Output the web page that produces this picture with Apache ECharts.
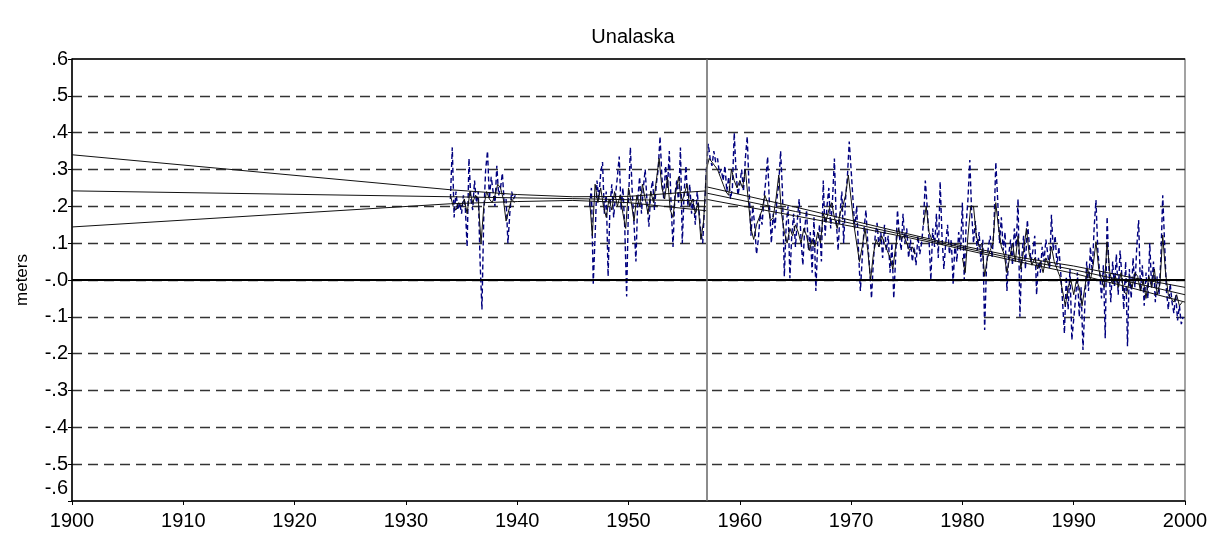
<!DOCTYPE html>
<html>
<head>
<meta charset="utf-8">
<script src="https://cdn.jsdelivr.net/npm/echarts@6/dist/echarts.min.js"></script>
<style>
html,body{margin:0;padding:0;background:#fff;}
#chart{width:1225px;height:537px;}
</style>
</head>
<body>
<div id="chart"></div>
<script>
// ---------------- DATA ----------------
const titleText = 'Unalaska';
const yAxisName = 'meters';
const xTickLabels = ['1900','1910','1920','1930','1940','1950','1960','1970','1980','1990','2000'];
const yTickLabels = ['.6','.5','.4','.3','.2','.1','-.0','-.1','-.2','-.3','-.4','-.5','-.6'];
const breakYear = 1957;

// monthly-ish sea level (blue dashed), 6 values per year
const blueA_start = 1934.0;
const blueA = [0.22,0.36,0.17,0.24,0.19,0.21,0.18,0.23,0.20,0.09,0.33,0.22,0.19,0.27,0.21,0.24,0.05,-0.08,
               0.18,0.30,0.35,0.22,0.28,0.24,0.20,0.31,0.23,0.25,0.29,0.21,0.22,0.10,0.18,0.24,0.22,0.23];
const blueB_start = 1946.5;
const blueB = [0.20,0.25,-0.01,0.12,0.27,0.22,0.29,0.32,0.18,0.24,0.01,0.20,0.26,0.17,0.23,0.28,0.335,0.19,
               0.25,0.14,-0.045,0.21,0.36,0.24,0.15,0.05,0.22,0.28,0.18,0.25,0.30,0.21,0.145,0.24,0.27,0.19,
               0.26,0.30,0.39,0.28,0.22,0.31,0.25,0.35,0.20,0.09,0.23,0.27,0.21,0.36,0.10,0.24,0.31,0.20,
               0.26,0.18,0.22,0.15,0.24,0.19,0.13,0.10,0.20];
const blueC_start = 1957.0;
const blueC = [
  0.30,0.37,0.33,0.31,0.35,0.32,  0.33,0.29,0.30,0.27,0.31,0.24,  0.28,0.22,0.25,0.40,0.29,0.23,
  0.26,0.30,0.24,0.33,0.39,0.25,  0.12,0.20,0.15,0.07,0.11,0.18,  0.15,0.22,0.27,0.335,0.20,0.10,
  0.18,0.14,0.22,0.26,0.35,0.24,  0.01,0.15,0.20,0.005,0.12,0.18, 0.09,0.16,0.22,0.11,0.04,0.14,
  0.19,0.08,0.13,0.02,0.17,-0.03, 0.10,0.15,0.05,0.27,0.12,0.20,  0.25,0.14,0.22,0.33,0.16,0.08,
  0.18,0.24,0.10,0.22,0.28,0.376, 0.30,0.22,0.14,0.20,0.08,-0.03, 0.06,0.14,0.19,0.10,0.03,-0.05,
  0.05,0.12,0.155,0.09,0.13,0.06, 0.15,0.08,0.12,0.02,0.10,-0.05, 0.06,0.19,0.12,0.08,0.18,0.10,
  0.14,0.06,0.11,0.05,0.09,0.04,  0.12,0.07,0.10,0.155,0.27,0.20, 0.11,0.00,0.14,0.09,0.18,0.06,
  0.267,0.12,0.03,0.10,0.15,0.07, 0.11,-0.01,0.10,0.05,0.13,0.08, 0.21,0.00,0.15,0.22,0.326,0.18,
  0.10,0.16,0.08,0.13,0.05,0.11,  -0.136,0.04,0.09,0.12,0.06,0.14, 0.32,0.22,0.10,0.17,0.08,0.13,
  -0.03,0.07,0.11,0.04,0.14,0.09, 0.22,-0.10,0.06,0.12,0.03,0.163, 0.10,0.05,0.08,0.12,-0.04,0.06,
  0.02,0.09,0.05,0.11,0.07,0.03,  0.177,0.08,0.12,0.04,0.09,0.02, -0.06,-0.145,0.01,-0.08,0.03,-0.163,
  -0.163,-0.05,0.02,-0.10,-0.02,-0.19, -0.07,0.05,-0.03,0.09,0.02,0.14, 0.217,0.08,0.02,-0.05,0.04,-0.158,
  0.172,0.03,-0.06,0.05,-0.02,0.07, -0.04,0.08,0.01,-0.08,0.05,-0.18, 0.03,-0.05,0.06,-0.02,0.09,0.163,
  -0.03,0.04,-0.07,0.02,-0.05,0.10, -0.02,0.05,-0.06,0.01,-0.04,0.06, 0.23,0.10,-0.03,-0.08,-0.01,-0.06,
  -0.09,-0.04,-0.11,-0.07,-0.12,-0.10];

// smoothed series (black solid), 4 values per year
const blackA_start = 1934.0;
const blackA = [0.23,0.20,0.19,0.21,0.20,0.22,0.18,0.24,0.21,0.23,0.22,0.10,0.20,0.24,0.22,0.21,0.23,0.26,0.25,0.22,0.16,0.19,0.22,0.21];
const blackB_start = 1946.5;
const blackB = [0.22,0.12,0.26,0.21,0.25,0.20,0.17,0.22,0.19,0.24,0.20,0.23,0.18,0.14,0.25,0.21,0.16,0.23,0.20,0.26,0.22,
                0.18,0.24,0.21,0.27,0.33,0.25,0.22,0.28,0.19,0.17,0.24,0.28,0.21,0.23,0.26,0.20,0.22,0.18,0.21,0.11,0.16,
                0.30,0.33,0.32,0.31, 0.30,0.28,0.26,0.24, 0.23,0.30,0.27,0.25, 0.27,0.25,0.30,0.22, 0.14,0.11,0.15,0.17,
                0.19,0.23,0.21,0.16, 0.17,0.22,0.285,0.18, 0.13,0.10,0.14,0.12, 0.15,0.13,0.10,0.14, 0.12,0.08,0.11,0.09,
                0.13,0.10,0.18,0.16, 0.19,0.21,0.17,0.14, 0.18,0.20,0.23,0.285, 0.22,0.15,0.10,0.05, 0.09,0.14,0.08,0.00,
                0.07,0.11,0.09,0.12, 0.10,0.08,0.06,0.03, 0.09,0.14,0.11,0.12, 0.10,0.08,0.09,0.07];
const blackC_start = 1976.5;
const blackC = [0.15,0.20,0.13,0.11];
const blackD_start = 1980.0;
const blackD = [0.06,0.02,0.12,0.20, 0.20,0.12,0.09,0.10, 0.01,0.06,0.08,0.10, 0.21,0.14,0.09,0.07, 0.02,0.06,0.10,0.05,
                0.12,0.03,0.08,0.14, 0.07,0.04,0.06,0.03, 0.05,0.02,0.06,0.04, 0.09,0.05,0.03,0.01, -0.03,-0.07,-0.02,0.00,
                -0.04,0.00,-0.02,-0.07, -0.02,0.03,0.00,0.04, 0.104,0.03,0.00,-0.02, 0.104,0.02,-0.01,0.01, -0.02,0.02,-0.03,-0.04,
                0.00,-0.02,0.02,0.01, -0.03,0.00,-0.05,0.01, -0.02,0.03,-0.04,-0.01, 0.122,0.02,-0.04,-0.05, -0.06,-0.04,-0.07,-0.06];

// trend lines with confidence bands
const preYears = [1900,1934,1940,1945,1950,1957];
const preUp    = [0.340,0.245,0.232,0.226,0.227,0.242];
const preMid   = [0.242,0.226,0.223,0.221,0.218,0.215];
const preLow   = [0.144,0.207,0.213,0.216,0.210,0.188];
const postYears = [1957,1965,1970,1975,1978,1985,1990,1995,2000];
const postUp    = [0.253,0.198,0.162,0.126,0.105,0.062,0.038,0.008,-0.020];
const postMid   = [0.236,0.186,0.154,0.121,0.101,0.056,0.028,-0.005,-0.040];
const postLow   = [0.219,0.174,0.146,0.116,0.097,0.050,0.018,-0.020,-0.060];

// ---------------- BUILD ----------------
function seg(start, perYear, vals){ return vals.map((v,i)=>[start + i/perYear, v]); }
function pairs(xs, ys){ return xs.map((x,i)=>[x, ys[i]]); }

const blueStyle = {color:'#00007f', width:1.4, type:[5,3]};
const blackStyle = {color:'#111', width:1};
const trendStyle = {color:'#111', width:1};

function lineSeries(data, style, z){
  return {type:'line', data:data, showSymbol:false, symbol:'none', lineStyle:style, z:z, silent:true, animation:false};
}

const series = [
  lineSeries(seg(blueA_start,6,blueA), blueStyle, 2),
  lineSeries(seg(blueB_start,6,blueB).concat(seg(blueC_start,6,blueC)), blueStyle, 2),
  lineSeries(seg(blackA_start,4,blackA), blackStyle, 3),
  lineSeries(seg(blackB_start,4,blackB), blackStyle, 3),
  lineSeries(seg(blackC_start,4,blackC), blackStyle, 3),
  lineSeries(seg(blackD_start,4,blackD), blackStyle, 3),
  lineSeries(pairs(preYears,preUp), trendStyle, 4),
  lineSeries(pairs(preYears,preMid), trendStyle, 4),
  lineSeries(pairs(preYears,preLow), trendStyle, 4),
  lineSeries(pairs(postYears,postUp), trendStyle, 4),
  lineSeries(pairs(postYears,postMid), trendStyle, 4),
  lineSeries(pairs(postYears,postLow), trendStyle, 4),
  {
    type:'line', data:[], silent:true, z:1,
    markLine:{
      symbol:['none','none'], silent:true, animation:false, label:{show:false},
      data:[
        {yAxis:0, lineStyle:{color:'#000', width:2, type:'solid'}},
        {yAxis:0.6, lineStyle:{color:'#000', width:1.5, type:'solid'}},
        {xAxis:breakYear, lineStyle:{color:'#666', width:1.5, type:'solid'}}
      ]
    }
  }
];

const fontFam = '"Liberation Sans", Arial, sans-serif';
const chart = echarts.init(document.getElementById('chart'), null, {renderer:'canvas'});
chart.setOption({
  animation:false,
  backgroundColor:'#fff',
  title:{text:titleText, left:628, top:22, textAlign:'center',
         textStyle:{fontFamily:fontFam, fontSize:20, fontWeight:'normal', color:'#000'}},
  grid:{left:72, right:40, top:59, bottom:36, show:true, borderColor:'#666', borderWidth:1.2},
  xAxis:{
    type:'value', min:1900, max:2000, interval:10,
    axisLine:{show:true, onZero:false, lineStyle:{color:'#000', width:1.5}},
    axisTick:{show:true, length:4, lineStyle:{color:'#000'}},
    splitLine:{show:false},
    axisLabel:{margin:10, fontFamily:fontFam, fontSize:20, color:'#000',
      formatter:function(v){ const i = Math.round((v-1900)/10); return xTickLabels[i] || ''; }}
  },
  yAxis:{
    type:'value', min:-0.6, max:0.6, interval:0.1,
    name:yAxisName, nameLocation:'middle', nameGap:41, nameRotate:90,
    nameTextStyle:{fontFamily:fontFam, fontSize:17, color:'#000'},
    axisLine:{show:true, onZero:false, lineStyle:{color:'#000', width:1.5}},
    axisTick:{show:true, length:4, lineStyle:{color:'#000'}},
    splitLine:{show:true, showMinLine:false, showMaxLine:false, lineStyle:{color:'#333', width:1.3, type:[10,6]}},
    axisLabel:{margin:4, fontFamily:fontFam, fontSize:20, color:'#000',
      formatter:function(v){
        const i = Math.round((0.6 - v)*10);
        const s = yTickLabels[i] || '';
        return i === 12 ? '{low|' + s + '}' : s;
      },
      rich:{low:{fontFamily:fontFam, fontSize:20, color:'#000', padding:[0,0,26,0]}}
    }
  },
  series:series
});
</script>
</body>
</html>
